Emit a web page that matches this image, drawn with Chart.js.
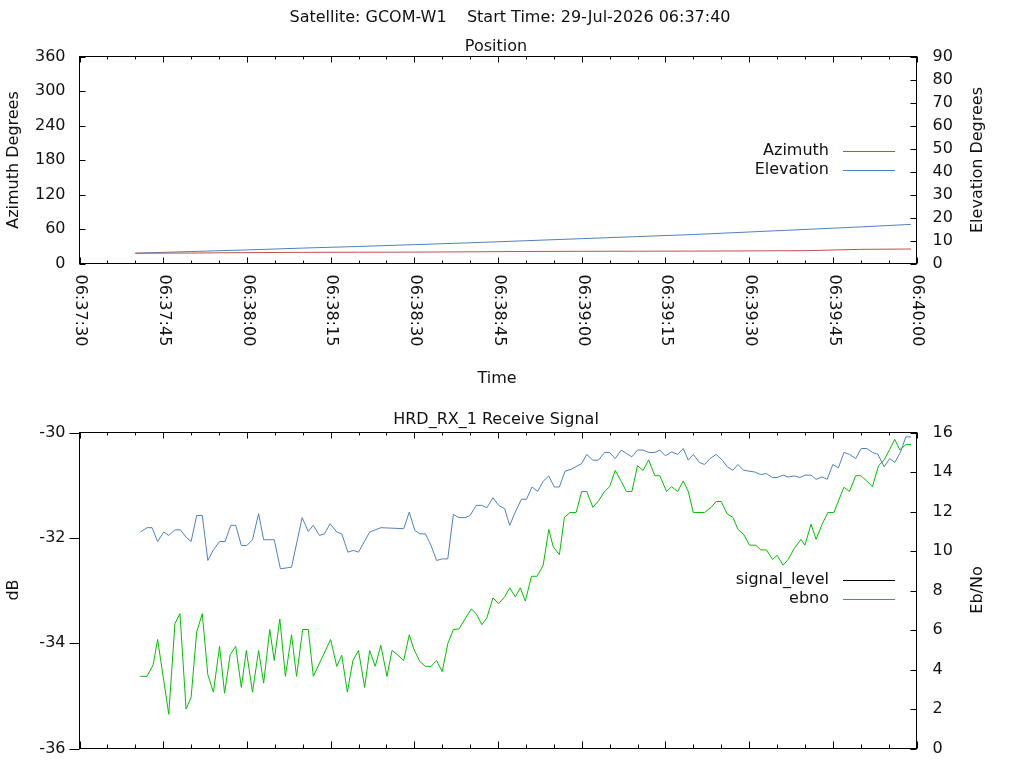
<!DOCTYPE html>
<html>
<head>
<meta charset="utf-8">
<title>GCOM-W1 pass</title>
<script src="https://cdn.jsdelivr.net/npm/chart.js@4.4.1/dist/chart.umd.min.js"></script>
<style>
    html, body { margin: 0; padding: 0; background: #fff; }
    #wrap { position: relative; width: 1024px; height: 768px; overflow: hidden; }
    canvas { position: absolute; left: 0; }
</style>
</head>
<body>
<div id="wrap">
    <canvas id="posChart" width="1024" height="400" style="top:0px;width:1024px;height:400px"></canvas>
    <canvas id="sigChart" width="1024" height="378" style="top:390px;width:1024px;height:378px"></canvas>
</div>
<script>
// ---- data (times are seconds after 06:37:30) ----
const mainTitle = 'Satellite: GCOM-W1    Start Time: 29-Jul-2026 06:37:40';
const timeTicks = ['06:37:30', '06:37:45', '06:38:00', '06:38:15', '06:38:30', '06:38:45',
                   '06:39:00', '06:39:15', '06:39:30', '06:39:45', '06:40:00'];
const azimuthTicks = [0, 60, 120, 180, 240, 300, 360];
const elevationTicks = [0, 10, 20, 30, 40, 50, 60, 70, 80, 90];
const dbTicks = [-36, -34, -32, -30];
const ebnoTicks = [0, 2, 4, 6, 8, 10, 12, 14, 16];

const posSecs = [10, 20, 30, 40, 50, 60, 70, 80, 90, 100, 110, 120, 130, 140, 149];
const azimuth = [17.8, 18.2, 18.9, 19.4, 19.6, 19.8, 20.3, 20.9, 21.2, 21.4, 21.6, 21.9, 22.3, 24.6, 25.2];
const elevation = [4.5, 5.2, 5.9, 6.7, 7.4, 8.2, 9.0, 9.9, 10.8, 11.7, 12.6, 13.7, 14.8, 15.9, 17.0];

// signal_level (black in the key) has no samples inside the -36..-30 dB window
const signalSecs = [];
const signalLevel = [];

// green trace, dB (left axis), not in the key
const greenSecs = [10.9, 12.1, 13.2, 14.0, 16.0, 17.1, 18.0, 19.1, 20.0, 21.0, 22.0, 23.0, 24.0, 25.1, 26.0,
    27.0, 28.0, 29.0, 29.9, 31.0, 32.1, 33.0, 34.1, 34.9, 35.9, 36.9, 38.0, 38.9, 40.0, 41.0, 41.9,
    45.0, 46.1, 47.0, 48.0, 49.0, 50.0, 51.1, 52.0, 53.0, 54.0, 55.1, 56.0, 57.0, 58.1, 59.1,
    59.9, 61.0, 62.0, 63.0, 64.0, 65.0, 66.0, 67.0, 68.0, 69.1, 70.2, 71.1, 72.1, 73.0, 74.1, 75.1,
    76.2, 77.1, 78.1, 79.0, 79.9, 81.0, 82.0, 83.1, 84.1, 84.9, 86.0, 86.9, 87.9, 89.0, 90.0, 90.9,
    92.0, 93.0, 94.1, 95.0, 96.0, 97.1, 98.0, 99.0, 100.0, 101.0, 102.0, 103.1, 104.0, 105.2, 106.1,
    107.2, 108.2, 109.1, 110.0, 112.0, 113.2, 114.1, 115.0, 116.1, 117.1, 118.0, 119.0, 120.1, 121.2,
    122.1, 123.1, 124.2, 125.0, 126.1, 127.0, 128.1, 129.3, 130.0, 131.1, 132.0, 133.1, 134.1, 135.2,
    136.0, 137.0, 138.0, 139.1, 140.0, 141.0, 142.1, 143.2, 144.2, 145.2, 146.1, 147.0, 148.1, 149.0];
const greenDb = [-34.63, -34.63, -34.41, -33.93, -35.35, -33.63, -33.44, -35.25, -35.03, -33.79, -33.44, -34.60, -34.93, -34.06, -34.95,
    -34.22, -34.06, -34.84, -34.14, -34.93, -34.14, -34.76, -33.74, -34.33, -33.54, -34.63, -33.84, -34.63, -33.74, -33.74, -34.63,
    -33.93, -34.44, -34.23, -34.93, -34.33, -34.14, -34.84, -34.14, -34.44, -34.04, -34.63, -34.14, -34.22, -34.33, -33.84,
    -34.11, -34.35, -34.44, -34.44, -34.33, -34.54, -34.01, -33.74, -33.73, -33.54, -33.35, -33.44, -33.65, -33.52, -33.14, -33.25,
    -33.12, -32.95, -33.12, -32.95, -33.20, -32.73, -32.73, -32.52, -31.84, -32.17, -32.32, -31.61, -31.52, -31.52, -31.12, -31.12,
    -31.42, -31.30, -31.12, -31.03, -30.72, -30.93, -31.12, -31.12, -30.63, -30.72, -30.52, -30.82, -30.82, -31.12, -31.03,
    -31.12, -30.92, -31.12, -31.52, -31.52, -31.42, -31.31, -31.31, -31.55, -31.61, -31.84, -31.93, -32.14, -32.14,
    -32.23, -32.23, -32.41, -32.33, -32.52, -32.41, -32.20, -32.03, -32.14, -31.74, -32.03, -31.74, -31.52, -31.52,
    -31.30, -31.04, -31.12, -30.82, -30.82, -30.91, -31.03, -30.63, -30.52, -30.32, -30.13, -30.33, -30.23, -30.23];

// ebno (right axis)
const ebnoSecs = [10.9, 12.1, 13.0, 14.0, 15.1, 16.0, 17.1, 18.1, 19.1, 20.0, 21.0, 22.0, 23.0, 24.0, 25.1, 26.1,
    27.1, 28.0, 29.0, 30.0, 31.0, 32.1, 33.0, 34.9, 36.0, 38.0, 39.9, 41.0, 41.9, 43.0, 43.9, 44.9, 46.1,
    47.0, 48.1, 49.1, 50.0, 52.0, 53.0, 54.0, 58.1, 59.1, 60.1, 61.0, 62.0, 63.0, 64.0, 65.0, 66.0, 67.0,
    68.0, 69.1, 70.0, 71.1, 72.1, 73.0, 74.1, 75.1, 76.2, 77.1, 78.1, 79.2, 80.1, 81.1, 82.1, 83.1, 84.1,
    85.1, 86.0, 87.0, 88.1, 90.0, 90.9, 92.0, 93.0, 94.1, 95.0, 96.0, 97.1, 98.0, 99.0, 100.0, 101.0,
    102.0, 103.1, 104.0, 105.0, 106.1, 107.2, 108.2, 109.1, 110.0, 111.1, 112.0, 113.0, 114.1, 115.2,
    116.1, 117.1, 118.0, 119.0, 121.0, 122.1, 123.1, 124.2, 125.0, 126.1, 127.0, 128.1, 129.1, 130.0,
    131.1, 132.0, 133.1, 134.0, 135.0, 136.0, 137.0, 138.0, 139.1, 140.1, 141.1, 142.1, 143.1, 144.2,
    145.2, 146.1, 147.1, 148.1, 149.0];
const ebno = [10.96, 11.18, 11.18, 10.48, 10.96, 10.79, 11.07, 11.07, 10.70, 10.48, 11.80, 11.80, 9.52, 10.06, 10.48, 10.48,
    11.30, 11.30, 10.28, 10.28, 10.57, 11.89, 10.57, 10.57, 9.10, 9.18, 11.69, 10.99, 11.30, 10.79, 10.87, 11.38, 10.96,
    10.87, 9.94, 10.03, 9.94, 10.96, 11.07, 11.18, 11.13, 11.97, 11.04, 10.87, 10.87, 10.28, 9.52, 9.60, 9.60, 11.85,
    11.69, 11.69, 11.80, 12.31, 12.31, 12.19, 12.70, 12.31, 12.14, 11.30, 11.97, 12.62, 12.62, 13.24, 13.02, 13.53, 13.80,
    13.24, 13.24, 14.04, 14.14, 14.43, 14.89, 14.60, 14.60, 14.99, 14.99, 14.68, 15.11, 14.94, 14.77, 15.11, 15.11,
    14.99, 14.99, 15.11, 14.82, 15.02, 14.89, 15.19, 14.60, 14.89, 14.48, 14.38, 14.68, 14.89, 14.60,
    14.26, 14.09, 14.38, 14.09, 14.00, 13.87, 13.92, 13.72, 13.72, 13.84, 13.75, 13.80, 13.72, 13.84,
    13.84, 13.63, 13.75, 13.63, 14.38, 14.21, 14.99, 14.89, 14.68, 15.19, 15.19, 14.99, 14.89, 14.26,
    14.68, 14.48, 14.99, 15.78, 15.78];

// ---- helpers ----
function toSec(hms) {
    const p = hms.split(':').map(Number);
    return p[0] * 3600 + p[1] * 60 + p[2];
}
const t0 = toSec(timeTicks[0]);
const tickSecs = timeTicks.map(s => toSec(s) - t0);
const pairs = (xs, ys) => xs.map((x, i) => ({ x: x, y: ys[i] }));

const FONT = 'DejaVu Sans';
const INK = '#111';
const RED = '#c0504d';
const BLUE = '#4f81bd';
const GREEN = '#00c000';

Chart.defaults.font.family = FONT;
Chart.defaults.font.size = 16;
Chart.defaults.color = INK;

// gnuplot-like frame, inward ticks, rotated time labels, key and free texts
const gnuFrame = {
    id: 'gnuFrame',
    afterDraw(chart, args, opts) {
        const ctx = chart.ctx;
        const a = chart.chartArea;
        const xs = chart.scales.x;
        ctx.save();
        ctx.strokeStyle = '#000';
        ctx.lineWidth = 1;
        ctx.strokeRect(a.left, a.top, a.right - a.left, a.bottom - a.top);

        ctx.beginPath();
        const minorStep = (tickSecs[1] - tickSecs[0]) / 3;
        for (let s = tickSecs[0]; s <= tickSecs[tickSecs.length - 1] + 0.01; s += minorStep) {
            const px = Math.round(xs.getPixelForValue(s)) + 0.5;
            const major = tickSecs.some(v => Math.abs(v - s) < 0.01);
            const lenB = major ? opts.xMajorBottom : opts.xMinorBottom;
            const lenT = major ? 6 : 3;
            ctx.moveTo(px, a.bottom); ctx.lineTo(px, a.bottom - lenB);
            ctx.moveTo(px, a.top); ctx.lineTo(px, a.top + lenT);
        }
        const ys = chart.scales.y;
        ys.ticks.forEach(t => {
            const py = Math.round(ys.getPixelForValue(t.value)) + 0.5;
            ctx.moveTo(a.left, py);
            ctx.lineTo(a.left + (opts.leftOut ? -10 : 6), py);
        });
        const y2 = chart.scales.y2;
        y2.ticks.forEach(t => {
            const py = Math.round(y2.getPixelForValue(t.value)) + 0.5;
            ctx.moveTo(a.right, py); ctx.lineTo(a.right - 6, py);
        });
        ctx.stroke();

        ctx.fillStyle = INK;
        ctx.font = '16px "' + FONT + '"';
        if (opts.timeLabels) {
            ctx.textAlign = 'left';
            ctx.textBaseline = 'middle';
            timeTicks.forEach((lab, i) => {
                ctx.save();
                ctx.translate(xs.getPixelForValue(tickSecs[i]) + 1, a.bottom + 11);
                ctx.rotate(Math.PI / 2);
                ctx.fillText(lab, 0, 0);
                ctx.restore();
            });
        }

        (opts.texts || []).forEach(t => {
            ctx.save();
            ctx.translate(t.x, t.y);
            if (t.rot) ctx.rotate(t.rot);
            ctx.textAlign = 'center';
            ctx.textBaseline = 'middle';
            ctx.fillText(t.text, 0, 0);
            ctx.restore();
        });

        let row = 0;
        chart.data.datasets.forEach(ds => {
            if (!ds.label) return;
            const y = opts.keyY + row * 19;
            ctx.textAlign = 'right';
            ctx.textBaseline = 'middle';
            ctx.fillStyle = INK;
            ctx.fillText(ds.label, opts.keyX, y);
            ctx.strokeStyle = ds.borderColor;
            ctx.beginPath();
            ctx.moveTo(opts.keyX + 14, Math.round(y) + 0.5);
            ctx.lineTo(opts.keyX + 66, Math.round(y) + 0.5);
            ctx.stroke();
            row++;
        });
        ctx.restore();
    }
};

// pin the axis boxes so the plot area lands where the reference has it
function pinBox(s) {
    s.paddingTop = 0;
    s.paddingBottom = 0;
    s.paddingLeft = 0;
    s.paddingRight = 0;
}

function yScale(ticks, pos, width, pad) {
    return {
        type: 'linear',
        position: pos,
        min: ticks[0],
        max: ticks[ticks.length - 1],
        afterBuildTicks: s => { s.ticks = ticks.map(v => ({ value: v })); },
        afterFit: s => { s.width = width; pinBox(s); },
        grid: { display: false, drawTicks: false },
        border: { display: false },
        ticks: { autoSkip: false, padding: pad, color: INK }
    };
}

function xScale(height) {
    return {
        type: 'linear',
        min: tickSecs[0],
        max: tickSecs[tickSecs.length - 1],
        afterFit: s => { s.height = height; pinBox(s); },
        grid: { display: false, drawTicks: false },
        border: { display: false },
        ticks: { display: false }
    };
}

function lineSet(label, color, data, axis) {
    return {
        label: label, data: data, yAxisID: axis,
        borderColor: color, borderWidth: 1, pointRadius: 0,
        tension: 0, fill: false
    };
}

new Chart(document.getElementById('posChart'), {
    type: 'line',
    data: {
        datasets: [
            lineSet('Azimuth', RED, pairs(posSecs, azimuth), 'y'),
            lineSet('Elevation', BLUE, pairs(posSecs, elevation), 'y2')
        ]
    },
    options: {
        responsive: false,
        maintainAspectRatio: false,
        devicePixelRatio: 1,
        animation: false,
        layout: { padding: { top: 56.5, left: 0, right: 0, bottom: 0 } },
        scales: {
            x: xScale(136.5),
            y: yScale(azimuthTicks, 'left', 79.5, 14),
            y2: yScale(elevationTicks, 'right', 107.5, 16)
        },
        plugins: {
            legend: { display: false },
            tooltip: { enabled: false },
            gnuFrame: {
                timeLabels: true, leftOut: false, xMajorBottom: 6, xMinorBottom: 3,
                keyX: 829, keyY: 150.5,
                texts: [
                    { text: mainTitle, x: 510, y: 18 },
                    { text: 'Position', x: 496, y: 46.5 },
                    { text: 'Azimuth Degrees', x: 14, y: 160, rot: -Math.PI / 2 },
                    { text: 'Elevation Degrees', x: 977.5, y: 160, rot: -Math.PI / 2 },
                    { text: 'Time', x: 497, y: 379 }
                ]
            }
        }
    },
    plugins: [gnuFrame]
});

new Chart(document.getElementById('sigChart'), {
    type: 'line',
    data: {
        datasets: [
            lineSet('signal_level', '#000', pairs(signalSecs, signalLevel), 'y'),
            lineSet('ebno', BLUE, pairs(ebnoSecs, ebno), 'y2'),
            lineSet('', GREEN, pairs(greenSecs, greenDb), 'y')
        ]
    },
    options: {
        responsive: false,
        maintainAspectRatio: false,
        devicePixelRatio: 1,
        animation: false,
        layout: { padding: { top: 42.5, left: 0, right: 0, bottom: 0 } },
        scales: {
            x: xScale(19.5),
            y: yScale(dbTicks, 'left', 79.5, 14),
            y2: yScale(ebnoTicks, 'right', 107.5, 16)
        },
        plugins: {
            legend: { display: false },
            tooltip: { enabled: false },
            gnuFrame: {
                timeLabels: false, leftOut: true, xMajorBottom: 7, xMinorBottom: 4,
                keyX: 829, keyY: 190,
                texts: [
                    { text: 'HRD_RX_1 Receive Signal', x: 496, y: 30 },
                    { text: 'dB', x: 14, y: 200, rot: -Math.PI / 2 },
                    { text: 'Eb/No', x: 977.5, y: 200, rot: -Math.PI / 2 }
                ]
            }
        }
    },
    plugins: [gnuFrame]
});
</script>
</body>
</html>
